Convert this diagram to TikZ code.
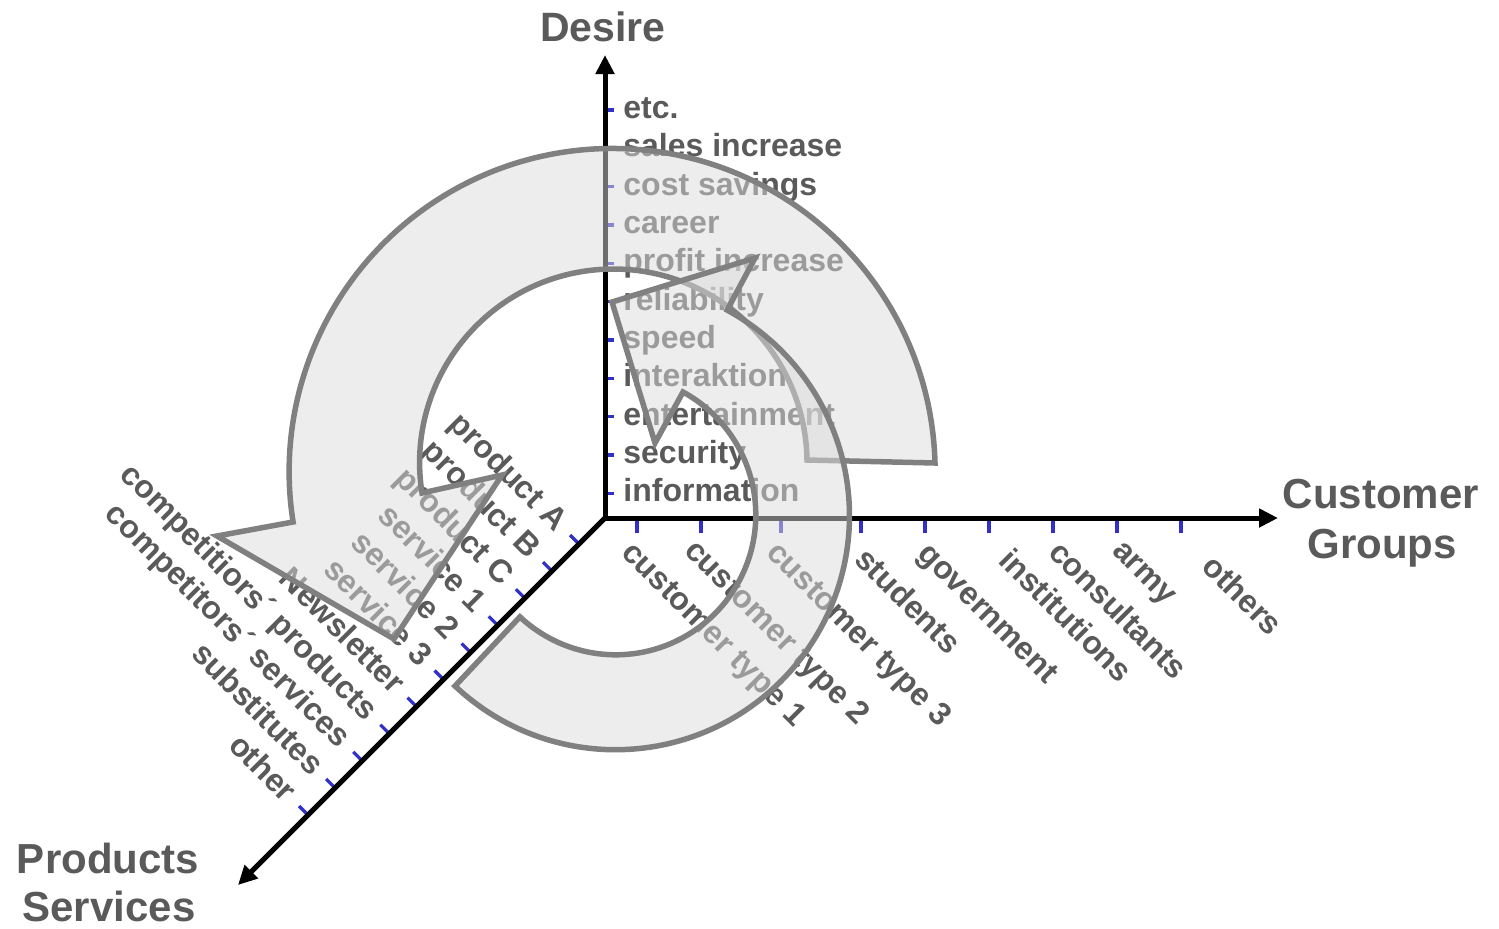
\documentclass[tikz,border=0pt]{standalone}
\usepackage{fontspec}
\setmainfont{Liberation Sans}
\usetikzlibrary{arrows.meta}

\definecolor{labelgray}{HTML}{5A5A5A}
\definecolor{tickblue}{HTML}{3030CC}
\definecolor{cycleline}{HTML}{808080}
\definecolor{cyclefill}{HTML}{DCDCDC}

\tikzset{
  axisline/.style={line width=2.5pt, black, -{Triangle[length=9.5pt,width=9pt]}},
  tickmark/.style={line width=1.6pt, tickblue},
  lbl/.style={font=\bfseries\fontsize{16}{19}\selectfont, text=labelgray, inner sep=0pt},
  ttl/.style={font=\bfseries\fontsize{21}{25}\selectfont, text=labelgray, inner sep=0pt, anchor=base},
  cyclearrow/.style={draw=cycleline, line width=2.75pt, fill=cyclefill, fill opacity=0.5},
}

\begin{document}
\begin{tikzpicture}[x=0.5pt,y=0.5pt]
  % canvas
  \fill[white] (0,0) rectangle (1499,-928);
  \useasboundingbox (0,0) rectangle (1499,-928);

  % axis end points
  \coordinate (O)  at (605,-518);
  \coordinate (yT) at (605,-55);
  \coordinate (xT) at (1278,-518);
  \coordinate (dT) at (238,-885);

  % Desire axis: ticks and labels
  \foreach \t [count=\k from 0] in {information, security, entertainment, interaktion, speed, reliability, profit increase, career, cost savings, sales increase, etc.} {
    \pgfmathsetmacro\ty{493.3-38.33*\k}
    \draw[tickmark] (605,-\ty) -- (614,-\ty);
    \node[lbl, anchor=base west] (d\k) at (623,-\ty-8.4) {\t};
  }

  % Customer axis: ticks and labels
  \foreach \tx/\px/\py/\t [count=\k] in {
      637/620/554/customer type 1,
      701/683/552/customer type 2,
      781/765/554/customer type 3,
      861/853/561/students,
      925/916/555/government,
      989/997/562/institutions,
      1053/1047/554/consultants,
      1117/1111/552/army,
      1181/1200/568/others} {
    \draw[tickmark] (\tx,-518) -- (\tx,-533);
    \node[lbl, rotate=-45, anchor=base west] (c\k) at (\px,-\py) {\t};
  }

  % Products axis: ticks and labels
  \foreach \t [count=\k from 0] in {product A, product B, product C, service 1, service 2, service 3, Newsletter, competitiors´ products, competitors´ services, substitutes, other} {
    \pgfmathsetmacro\qx{579-27.1*\k}
    \pgfmathsetmacro\qy{544+27.1*\k}
    \draw[tickmark] (\qx,-\qy) -- ++(-9,9);
    \node[lbl, rotate=-45, anchor=base east] (p\k) at (\qx-24,-\qy+11) {\t};
  }

  % axes
  \draw[axisline, {Triangle[length=9.5pt,width=9pt]}-{Triangle[length=9.5pt,width=9pt]}] (yT) -- (O) -- (xT);
  \draw[axisline] (O) -- (dT);

  % axis titles
  \node[ttl, font=\bfseries\fontsize{20.5}{25}\selectfont] (desire) at (603,-41.7) {Desire};
  \node[ttl] (cust1) at (1381,-508) {Customer};
  \node[ttl] (cust2) at (1382,-558) {Groups};
  \node[ttl] (prod1) at (108,-873) {Products};
  \node[ttl] (prod2) at (109,-921) {Services};

  % large circular arrow
  \draw[cyclearrow] (935,-463) arc[start angle=1.5, end angle=189, radius=323]
    -- (217,-536) -- (394,-639) -- (502,-475) -- (422,-493)
    arc[start angle=189, end angle=0.8, radius=193.7] -- cycle;

  % small circular arrow
  \draw[cyclearrow] (455,-686) arc[start angle=226.7, end angle=421.5, radius=234]
    -- (755,-258) -- (612,-302) -- (655,-443) -- (683,-392)
    arc[start angle=421.3, end angle=226.8, radius=140] -- cycle;
\end{tikzpicture}
\end{document}
